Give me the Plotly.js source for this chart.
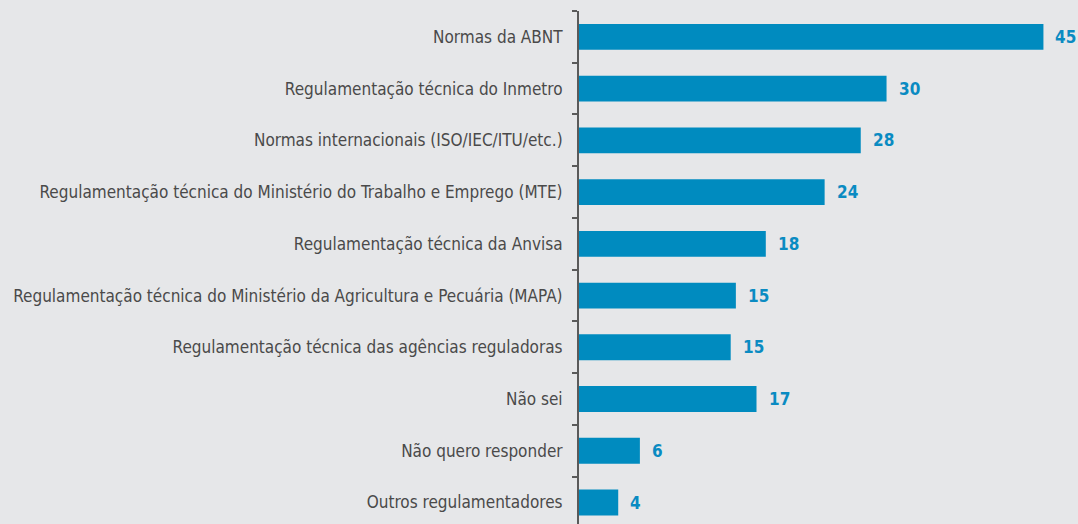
<!DOCTYPE html>
<html>
<head>
<meta charset="utf-8">
<script src="https://cdn.plot.ly/plotly-3.0.1.min.js"></script>
<style>html,body{margin:0;padding:0;background:#e6e7e9;}#chart{width:1078px;height:524px;}</style>
</head>
<body>
<div id="chart"></div>
<script>
const categories = [
  "Normas da ABNT",
  "Regulamentação técnica do Inmetro",
  "Normas internacionais (ISO/IEC/ITU/etc.)",
  "Regulamentação técnica do Ministério do Trabalho e Emprego (MTE)",
  "Regulamentação técnica da Anvisa",
  "Regulamentação técnica do Ministério da Agricultura e Pecuária (MAPA)",
  "Regulamentação técnica das agências reguladoras",
  "Não sei",
  "Não quero responder",
  "Outros regulamentadores"
];
const values = [45.0, 29.8, 27.3, 23.8, 18.1, 15.2, 14.7, 17.2, 5.9, 3.8];
const valueLabels = ["45", "30", "28", "24", "18", "15", "15", "17", "6", "4"];

const BLUE = "#008bbf";
const LABEL_BLUE = "#0a8bc2";
const LABEL_FONT = "'Liberation Sans Narrow', 'DejaVu Sans Condensed', sans-serif";

const trace = {
  type: "bar",
  orientation: "h",
  y: categories,
  x: values,
  marker: {color: BLUE, line: {width: 0}},
  hoverinfo: "none"
};

const annotations = categories.map((c, i) => ({
  x: values[i], y: c, xref: "x", yref: "y",
  text: valueLabels[i], showarrow: false,
  xanchor: "left", yanchor: "middle", xshift: 10,
  font: {family: LABEL_FONT, size: 17, color: LABEL_BLUE, weight: 700}
}));

const layout = {
  width: 1078, height: 524,
  margin: {l: 579, r: 0, t: 11, b: 0, pad: 0},
  paper_bgcolor: "#e6e7e9",
  plot_bgcolor: "#e6e7e9",
  showlegend: false,
  bargap: 0.5,
  xaxis: {
    range: [0, 48.35], visible: false, fixedrange: true
  },
  yaxis: {
    type: "category",
    range: [9.415, -0.5],
    automargin: false,
    showline: true, linecolor: "#5a5a5a", linewidth: 2,
    ticks: "outside", ticklen: 5, tickwidth: 2, tickcolor: "#5a5a5a",
    tickson: "boundaries",
    showgrid: false, zeroline: false,
    ticklabelstandoff: 11,
    tickfont: {family: LABEL_FONT, size: 17, color: "#4a4a4a"}
  },
  annotations: annotations
};

Plotly.newPlot("chart", [trace], layout, {displayModeBar: false, staticPlot: true});
</script>
</body>
</html>
